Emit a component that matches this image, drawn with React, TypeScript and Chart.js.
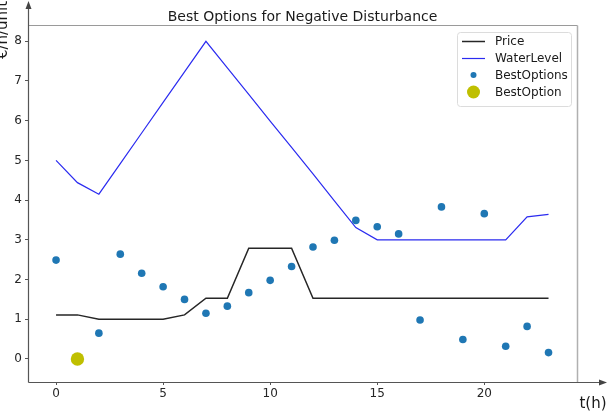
import React, { useEffect, useRef } from "react";
import { Chart, registerables } from "chart.js";

Chart.register(...registerables);

// Hourly series
const hours = [0, 1, 2, 3, 4, 5, 6, 7, 8, 9, 10, 11, 12, 13, 14, 15, 16, 17, 18, 19, 20, 21, 22, 23];
const price = [1.11, 1.11, 1.0, 1.0, 1.0, 1.0, 1.11, 1.53, 1.53, 2.79, 2.79, 2.79, 1.53, 1.53, 1.53, 1.53, 1.53, 1.53, 1.53, 1.53, 1.53, 1.53, 1.53, 1.53];
const waterLevel = [5.0, 4.44, 4.15, 4.92, 5.69, 6.46, 7.23, 8.0, 7.33, 6.66, 5.99, 5.33, 4.66, 3.98, 3.31, 3.0, 3.0, 3.0, 3.0, 3.0, 3.0, 3.0, 3.58, 3.64];
const bestOptions = [2.49, 0.0, 0.65, 2.64, 2.16, 1.82, 1.5, 1.15, 1.33, 1.67, 1.98, 2.33, 2.82, 2.99, 3.49, 3.33, 3.15, 0.98, 3.83, 0.49, 3.66, 0.32, 0.82, 0.16];
const bestOptionHour = [1];
const bestOptionValue = [0];

const xTicks = [0, 5, 10, 15, 20];
const yTicks = [0, 1, 2, 3, 4, 5, 6, 7, 8];

const legendItems = ["Price", "WaterLevel", "BestOptions", "BestOption"];

const FONT = "'DejaVu Sans', sans-serif";
const PRICE_COLOR = "#262626";
const WATER_COLOR = "#2b2bf0";
const OPTIONS_COLOR = "#1f77b4";
const OPTION_COLOR = "#bfbf00";

const decorations = {
  id: "decorations",
  afterDraw(chart: any) {
    const { ctx, chartArea } = chart;
    const { left, right, top, bottom } = chartArea;
    const L = Math.round(left) + 0.5;
    const R = Math.round(right) + 0.5;
    const T = Math.round(top) + 0.5;
    const B = Math.round(bottom) + 0.5;
    ctx.save();

    // frame: top and right
    ctx.lineWidth = 1;
    ctx.strokeStyle = "#9a9a9a";
    ctx.beginPath();
    ctx.moveTo(L, T);
    ctx.lineTo(R, T);
    ctx.stroke();
    ctx.lineWidth = 1.5;
    ctx.strokeStyle = "#b0b0b0";
    ctx.beginPath();
    ctx.moveTo(R, T);
    ctx.lineTo(R, B);
    ctx.stroke();

    // arrowed axes
    ctx.strokeStyle = "#555";
    ctx.fillStyle = "#444";
    ctx.lineWidth = 1.2;
    ctx.beginPath();
    ctx.moveTo(L, B);
    ctx.lineTo(L, 6);
    ctx.stroke();
    ctx.beginPath();
    ctx.moveTo(L, 1);
    ctx.lineTo(L - 3, 9);
    ctx.lineTo(L + 3, 9);
    ctx.closePath();
    ctx.fill();

    ctx.beginPath();
    ctx.moveTo(L, B);
    ctx.lineTo(602, B);
    ctx.stroke();
    ctx.beginPath();
    ctx.moveTo(607, B);
    ctx.lineTo(599, B - 3);
    ctx.lineTo(599, B + 3);
    ctx.closePath();
    ctx.fill();

    // title
    ctx.fillStyle = "#1a1a1a";
    ctx.font = `14px ${FONT}`;
    ctx.textAlign = "center";
    ctx.textBaseline = "alphabetic";
    ctx.fillText("Best Options for Negative Disturbance", (left + right) / 2, 21);

    // axis titles
    ctx.font = `15px ${FONT}`;
    ctx.textAlign = "center";
    ctx.textBaseline = "middle";
    ctx.fillText("t(h)", 593, 404);

    ctx.save();
    ctx.translate(3, 30);
    ctx.rotate(-Math.PI / 2);
    ctx.fillText("€/h/unit", 0, 0);
    ctx.restore();

    // legend
    const bx = 457.5, by = 32.5, bw = 114, bh = 74, r = 3;
    ctx.beginPath();
    ctx.moveTo(bx + r, by);
    ctx.lineTo(bx + bw - r, by);
    ctx.arcTo(bx + bw, by, bx + bw, by + r, r);
    ctx.lineTo(bx + bw, by + bh - r);
    ctx.arcTo(bx + bw, by + bh, bx + bw - r, by + bh, r);
    ctx.lineTo(bx + r, by + bh);
    ctx.arcTo(bx, by + bh, bx, by + bh - r, r);
    ctx.lineTo(bx, by + r);
    ctx.arcTo(bx, by, bx + r, by, r);
    ctx.closePath();
    ctx.fillStyle = "rgba(255,255,255,0.85)";
    ctx.fill();
    ctx.strokeStyle = "#dcdcdc";
    ctx.lineWidth = 1;
    ctx.stroke();

    const rowY = [41, 58, 75, 92];
    ctx.font = `12px ${FONT}`;
    ctx.textAlign = "left";
    ctx.textBaseline = "middle";
    legendItems.forEach((label, i) => {
      const y = rowY[i];
      if (i === 0 || i === 1) {
        ctx.strokeStyle = i === 0 ? PRICE_COLOR : WATER_COLOR;
        ctx.lineWidth = i === 0 ? 1.5 : 1.2;
        ctx.beginPath();
        ctx.moveTo(462, y + 0.5);
        ctx.lineTo(485, y + 0.5);
        ctx.stroke();
      } else {
        ctx.fillStyle = i === 2 ? OPTIONS_COLOR : OPTION_COLOR;
        ctx.beginPath();
        ctx.arc(473.5, y, i === 2 ? 3 : 6.5, 0, Math.PI * 2);
        ctx.fill();
      }
      ctx.fillStyle = "#1a1a1a";
      ctx.fillText(label, 495, y + 1);
    });

    ctx.restore();
  },
};

export default function App() {
  const canvasRef = useRef<HTMLCanvasElement | null>(null);

  useEffect(() => {
    document.body.style.margin = "0";
    const canvas = canvasRef.current;
    if (!canvas) return;

    const toPoints = (xs: number[], ys: number[]) => xs.map((x, i) => ({ x, y: ys[i] }));

    const chart = new Chart(canvas, {
      type: "line",
      data: {
        datasets: [
          {
            type: "scatter",
            label: "BestOption",
            data: toPoints(bestOptionHour, bestOptionValue),
            backgroundColor: OPTION_COLOR,
            borderWidth: 0,
            pointRadius: 6.7,
          },
          {
            type: "scatter",
            label: "BestOptions",
            data: toPoints(hours, bestOptions),
            backgroundColor: OPTIONS_COLOR,
            borderWidth: 0,
            pointRadius: 3.8,
          },
          {
            type: "line",
            label: "WaterLevel",
            data: toPoints(hours, waterLevel),
            borderColor: WATER_COLOR,
            borderWidth: 1.2,
            pointRadius: 0,
            tension: 0,
            fill: false,
          },
          {
            type: "line",
            label: "Price",
            data: toPoints(hours, price),
            borderColor: PRICE_COLOR,
            borderWidth: 1.5,
            pointRadius: 0,
            tension: 0,
            fill: false,
          },
        ],
      },
      options: {
        animation: false,
        responsive: false,
        devicePixelRatio: 1,
        layout: { padding: { top: 25, right: 31, left: 0, bottom: 0 } },
        plugins: {
          legend: { display: false },
          title: { display: false },
          tooltip: { enabled: false },
        },
        scales: {
          x: {
            type: "linear",
            min: -1.31,
            max: 24.33,
            afterFit: (s: any) => {
              s.height = 34;
            },
            afterBuildTicks: (s: any) => {
              s.ticks = xTicks.map((v) => ({ value: v }));
            },
            grid: { display: true, drawOnChartArea: false, drawTicks: true, tickLength: 3, color: "#555" },
            border: { display: false },
            ticks: { font: { family: FONT, size: 12 }, color: "#262626", padding: 2, maxRotation: 0 },
          },
          y: {
            type: "linear",
            min: -0.58,
            max: 8.41,
            afterFit: (s: any) => {
              s.width = 28;
            },
            afterBuildTicks: (s: any) => {
              s.ticks = yTicks.map((v) => ({ value: v }));
            },
            grid: { display: true, drawOnChartArea: false, drawTicks: true, tickLength: 3, color: "#555" },
            border: { display: false },
            ticks: { font: { family: FONT, size: 12 }, color: "#262626", padding: 3 },
          },
        },
      },
      plugins: [decorations],
    });

    return () => chart.destroy();
  }, []);

  return (
    <div style={{ width: 608, height: 416 }}>
      <canvas ref={canvasRef} width={608} height={416} />
    </div>
  );
}
